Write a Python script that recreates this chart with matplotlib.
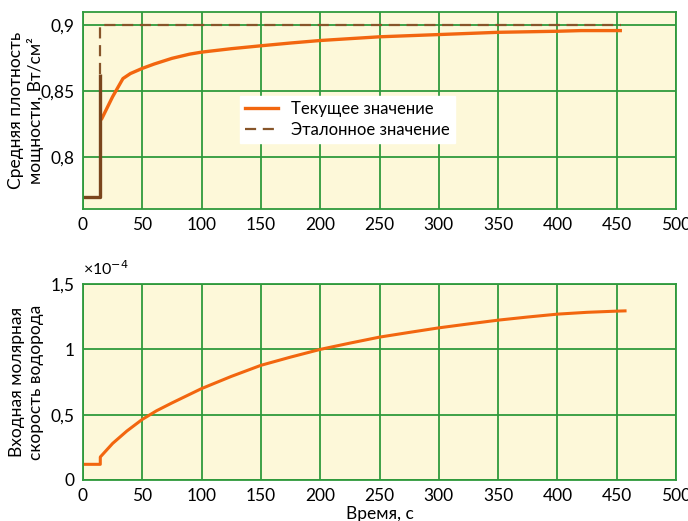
import matplotlib
matplotlib.use("Agg")
import matplotlib.pyplot as plt
from matplotlib.ticker import FixedLocator, FixedFormatter

plt.rcParams["font.family"] = ["Lato", "DejaVu Sans"]

# power density, current value (time, s / W/cm2)
t_cur = [16, 25, 33.7, 40, 50, 60, 75, 90, 100, 125, 150, 175, 200, 250, 300, 350, 400, 420, 453]
p_cur = [0.8296, 0.846, 0.8597, 0.8635, 0.8674, 0.8707, 0.875, 0.8782, 0.8797, 0.8823, 0.8845,
         0.8866, 0.8885, 0.8913, 0.893, 0.8947, 0.8955, 0.896, 0.896]
# initial step before the controller starts
t_pre = [0, 14.6, 14.6]
p_pre = [0.77, 0.77, 0.8628]
# reference value
t_ref = [14.6, 14.6, 454]
p_ref = [0.8628, 0.90, 0.90]

# hydrogen molar flow, x1e-4
t_h2 = [0, 14.6, 14.6, 25, 37, 50, 62, 75, 100, 125, 150, 175, 200, 225, 250, 275,
        300, 325, 350, 375, 400, 425, 450, 457]
q_h2 = [0.12, 0.12, 0.176, 0.28, 0.375, 0.464, 0.53, 0.59, 0.70, 0.793, 0.878, 0.941,
        1.0, 1.048, 1.094, 1.13, 1.165, 1.195, 1.224, 1.248, 1.27, 1.284, 1.293, 1.295]

xticks = [0, 50, 100, 150, 200, 250, 300, 350, 400, 450, 500]
top_yticks = [0.8, 0.85, 0.9]
top_ylabels = ["0,8", "0,85", "0,9"]
bot_yticks = [0, 0.5, 1, 1.5]
bot_ylabels = ["0", "0,5", "1", "1,5"]

BG = "#fdf8d9"
GRID = "#2f9a3c"
ORANGE = "#f2660f"
BROWN = "#87552a"

fig = plt.figure(figsize=(6.88, 5.21), dpi=100)
ax1 = fig.add_axes([0.1206, 0.5988, 0.862, 0.378])
ax2 = fig.add_axes([0.1206, 0.0787, 0.862, 0.376])


def style(ax, yt, yl):
    ax.set_facecolor(BG)
    ax.set_xlim(0, 500)
    ax.xaxis.set_major_locator(FixedLocator(xticks))
    ax.set_xticklabels([str(v) for v in xticks])
    ax.yaxis.set_major_locator(FixedLocator(yt))
    ax.yaxis.set_major_formatter(FixedFormatter(yl))
    ax.grid(True, color=GRID, lw=1.3)
    ax.set_axisbelow(True)
    for s in ax.spines.values():
        s.set_color(GRID)
        s.set_linewidth(1.3)
    ax.tick_params(length=0, labelsize=12.5, pad=6)


style(ax1, top_yticks, top_ylabels)
ax1.set_ylim(0.761, 0.910)
ax1.plot(t_cur, p_cur, color=ORANGE, lw=2.4, label="Текущее значение")
ax1.plot(t_pre, p_pre, color="#7a451c", lw=2.4, solid_capstyle="butt")
ax1.plot(t_ref, p_ref, color=BROWN, lw=1.6, dashes=(5, 3), label="Эталонное значение")
ax1.legend(loc="upper left", bbox_to_anchor=(0.25, 0.615), fontsize=12, frameon=True,
           fancybox=False, framealpha=1, edgecolor="white", borderpad=0.3,
           handlelength=2.0, labelspacing=0.3)
ax1.set_ylabel("Средняя плотность\nмощности, Вт/см²", fontsize=12.5, linespacing=1.2)
ax1.yaxis.set_label_coords(-0.066, 0.5)

style(ax2, bot_yticks, bot_ylabels)
ax2.set_ylim(0, 1.5)
ax2.plot(t_h2, q_h2, color=ORANGE, lw=2.2)
ax2.set_ylabel("Входная молярная\nскорость водорода", fontsize=12.5, linespacing=1.2)
ax2.yaxis.set_label_coords(-0.066, 0.5)
ax2.set_xlabel("Время, с", fontsize=12.5, labelpad=1)
ax2.text(0.0, 1.03, "×10$^{-4}$", transform=ax2.transAxes, fontsize=11.5, ha="left", va="bottom")

fig.savefig("out.png", dpi=100)
